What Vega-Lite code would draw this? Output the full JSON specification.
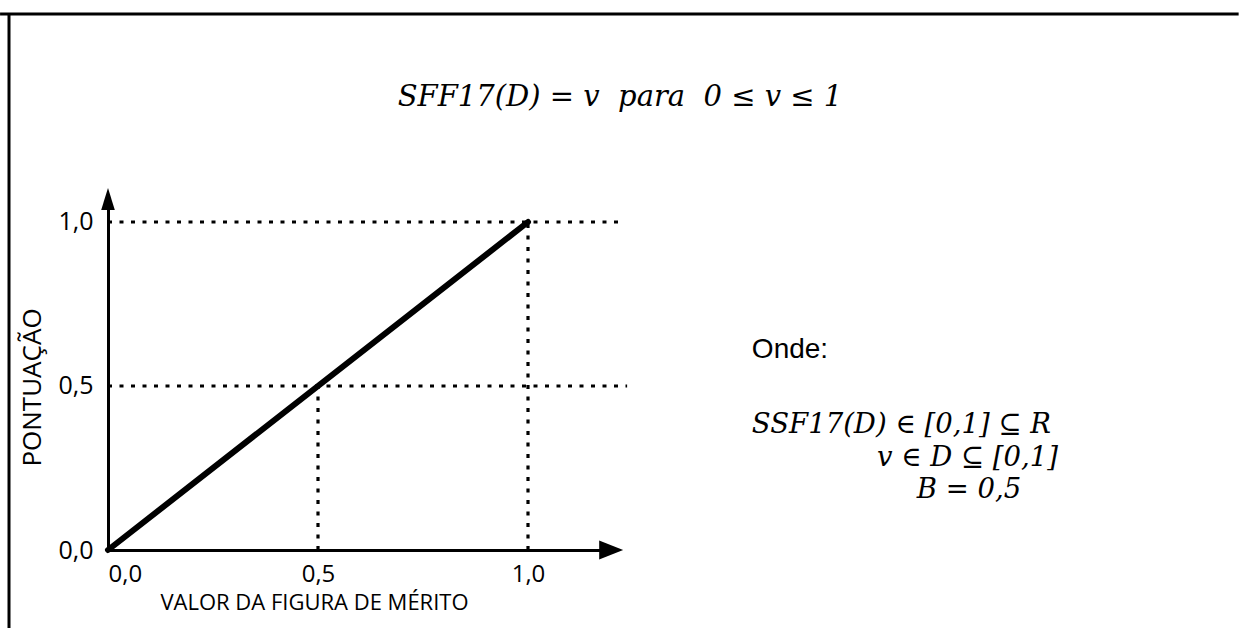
{
  "$schema": "https://vega.github.io/schema/vega-lite/v6.json",
  "width": 504,
  "height": 355,
  "autosize": {"type": "none"},
  "padding": {"left": 108, "top": 195, "right": 627, "bottom": 78},
  "background": "white",
  "config": {"view": {"stroke": null}},
  "encoding": {
    "x": {
      "field": "x", "type": "quantitative",
      "scale": {"domain": [0, 1.2], "nice": false, "zero": false},
      "axis": {
        "values": [0, 0.5, 1],
        "labelExpr": "replace(format(datum.value, '.1f'), '.', ',')",
        "labelAlign": {"condition": {"test": "datum.value == 0", "value": "left"}, "value": "center"},
        "ticks": false, "grid": false,
        "domainColor": "black", "domainWidth": 3,
        "labelFont": "Open Sans", "labelFontSize": 24, "labelColor": "black", "labelPadding": 12,
        "title": "VALOR DA FIGURA DE MÉRITO",
        "titleFont": "Open Sans", "titleFontSize": 22, "titleFontWeight": "normal", "titleColor": "black",
        "titlePadding": 6, "titleX": 206
      }
    },
    "y": {
      "field": "y", "type": "quantitative",
      "scale": {"domain": [0, 1.0823], "nice": false, "zero": false},
      "axis": {
        "values": [0, 0.5, 1],
        "labelExpr": "replace(format(datum.value, '.1f'), '.', ',')",
        "ticks": false, "grid": false,
        "domainColor": "black", "domainWidth": 3,
        "labelFont": "Open Sans", "labelFontSize": 25, "labelColor": "black", "labelPadding": 15,
        "title": "PONTUAÇÃO",
        "titleFont": "Open Sans", "titleFontSize": 26, "titleFontWeight": "normal", "titleColor": "black",
        "titlePadding": 12, "titleY": 192
      }
    }
  },
  "layer": [
    {
      "data": {"values": [
        {"x": -0.257, "x2": 2.692, "y": 1.634, "y2": 1.634},
        {"x": -0.2357, "x2": -0.2357, "y": 1.634, "y2": -0.243}
      ]},
      "mark": {"type": "rule", "color": "black", "strokeWidth": 3},
      "encoding": {"x2": {"field": "x2"}, "y2": {"field": "y2"}}
    },
    {
      "data": {"values": [
        {"x": 0, "x2": 1.231, "y": 1, "y2": 1},
        {"x": 0, "x2": 1.236, "y": 0.5, "y2": 0.5},
        {"x": 0.5, "x2": 0.5, "y": 0, "y2": 0.5},
        {"x": 1, "x2": 1, "y": 0, "y2": 1}
      ]},
      "mark": {"type": "rule", "color": "black", "strokeWidth": 3.2, "strokeDash": [4, 7.5]},
      "encoding": {"x2": {"field": "x2"}, "y2": {"field": "y2"}}
    },
    {
      "data": {"values": [{"x": 0, "y": 0}, {"x": 1, "y": 1}]},
      "mark": {"type": "line", "color": "black", "strokeWidth": 6, "strokeCap": "round"}
    },
    {
      "data": {"values": [{"x": 0, "y": 1.0702}]},
      "mark": {"type": "point", "filled": true, "color": "black", "opacity": 1, "size": 484, "shape": "M0,-1L0.62,1L-0.62,1Z"}
    },
    {
      "data": {"values": [{"x": 1.198, "y": 0}]},
      "mark": {"type": "point", "filled": true, "color": "black", "opacity": 1, "size": 576, "shape": "M1,0L-1,-0.8L-1,0.8Z"}
    },
    {
      "data": {"values": [{"x": 1.219, "y": 1.381, "text": "SFF17(D) = v\u00a0\u00a0para\u00a0\u00a00 ≤ v ≤ 1"}]},
      "mark": {"type": "text", "font": "DejaVu Serif", "fontStyle": "italic", "fontSize": 29, "align": "center", "baseline": "middle", "color": "black"},
      "encoding": {"text": {"field": "text"}}
    },
    {
      "data": {"values": [{"x": 1.533, "y": 0.61, "text": "Onde:"}]},
      "mark": {"type": "text", "font": "Liberation Sans", "fontSize": 28, "align": "left", "baseline": "middle", "color": "black"},
      "encoding": {"text": {"field": "text"}}
    },
    {
      "data": {"values": [{"x": 1.533, "y": 0.381, "text": "SSF17(D) ∈ [0,1] ⊆ R"}]},
      "mark": {"type": "text", "font": "DejaVu Serif", "fontStyle": "italic", "fontSize": 27.5, "align": "left", "baseline": "middle", "color": "black"},
      "encoding": {"text": {"field": "text"}}
    },
    {
      "data": {"values": [{"x": 2.262, "y": 0.28, "text": "v ∈ D ⊆ [0,1]"}]},
      "mark": {"type": "text", "font": "DejaVu Serif", "fontStyle": "italic", "fontSize": 27.5, "align": "right", "baseline": "middle", "color": "black"},
      "encoding": {"text": {"field": "text"}}
    },
    {
      "data": {"values": [{"x": 2.05, "y": 0.183, "text": "B = 0,5"}]},
      "mark": {"type": "text", "font": "DejaVu Serif", "fontStyle": "italic", "fontSize": 27.5, "align": "center", "baseline": "middle", "color": "black"},
      "encoding": {"text": {"field": "text"}}
    }
  ]
}
